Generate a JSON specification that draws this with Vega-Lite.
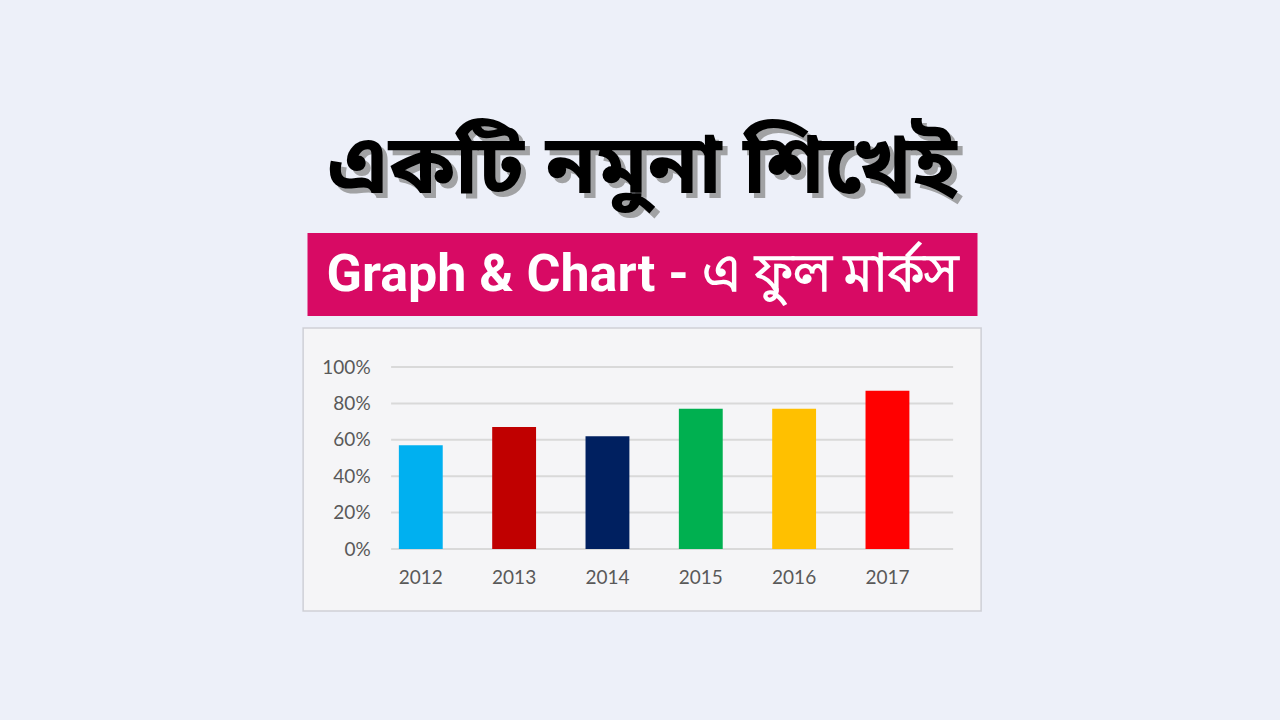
{
  "$schema": "https://vega.github.io/schema/vega-lite/v6.json",
  "description": "Thumbnail-style bar chart: yearly percentage with Bengali headline and banner.",
  "background": "#edf0f9",
  "padding": {"left": 302, "top": 122, "right": 300, "bottom": 110},
  "datasets": {
    "scores": [
      {"year": "2012", "share": 0.57},
      {"year": "2013", "share": 0.67},
      {"year": "2014", "share": 0.62},
      {"year": "2015", "share": 0.77},
      {"year": "2016", "share": 0.77},
      {"year": "2017", "share": 0.87}
    ],
    "ticks": [
      {"tick": 0}, {"tick": 0.2}, {"tick": 0.4},
      {"tick": 0.6}, {"tick": 0.8}, {"tick": 1}
    ]
  },
  "vconcat": [
    {
      "width": 678,
      "height": 100,
      "data": {"values": [{"headline": "একটি নমুনা শিখেই"}]},
      "layer": [
        {
          "mark": {"type": "text", "font": "Noto Sans Bengali", "fontSize": 82, "fontWeight": "bold", "color": "#8f8f8f", "opacity": 0.8, "dx": 5, "dy": 1},
          "encoding": {"text": {"field": "headline"}}
        },
        {
          "mark": {"type": "text", "font": "Noto Sans Bengali", "fontSize": 82, "fontWeight": "bold", "color": "#000000", "dy": -4},
          "encoding": {"text": {"field": "headline"}}
        }
      ]
    },
    {
      "width": 670,
      "height": 83,
      "view": {"fill": "#d80a64", "stroke": null},
      "data": {"values": [{"label": "Graph & Chart - এ ফুল মার্কস"}]},
      "mark": {"type": "text", "font": "Roboto", "fontSize": 52, "fontWeight": "bold", "color": "#ffffff"},
      "encoding": {"text": {"field": "label"}}
    },
    {
      "width": 678,
      "height": 283,
      "view": {"fill": "#f5f5f7", "stroke": "#cfd0d6", "strokeWidth": 1.5},
      "layer": [
        {
          "data": {"name": "ticks"},
          "mark": {"type": "rule", "color": "#d9d9d9", "strokeWidth": 2},
          "encoding": {
            "y": {
              "field": "tick", "type": "quantitative",
              "scale": {"domain": [0, 1], "range": [221, 39], "nice": false},
              "axis": {"orient": "left", "offset": -70, "title": null, "values": [0, 0.2, 0.4, 0.6, 0.8, 1], "format": ".0%", "ticks": false, "tickSize": 0, "domain": false, "grid": false, "labelPadding": 3, "labelFont": "Lato", "labelFontSize": 19, "labelColor": "#595959"}
            },
            "x": {"datum": 0, "type": "quantitative", "scale": {"domain": [0, 1], "range": [88, 650]}, "axis": null},
            "x2": {"datum": 1}
          }
        },
        {
          "data": {"name": "scores"},
          "mark": {"type": "bar"},
          "encoding": {
            "x": {
              "field": "year", "type": "nominal",
              "scale": {"range": [71, 631], "paddingInner": 0.53, "paddingOuter": 0.265},
              "axis": {"orient": "bottom", "offset": -62, "title": null, "labelAngle": 0, "ticks": false, "tickSize": 0, "domain": false, "grid": false, "labelPadding": 19, "labelFont": "Lato", "labelFontSize": 19, "labelColor": "#595959"}
            },
            "y": {
              "field": "share", "type": "quantitative",
              "scale": {"domain": [0, 1], "range": [221, 39], "nice": false},
              "axis": {"orient": "left", "offset": -70, "title": null, "values": [0, 0.2, 0.4, 0.6, 0.8, 1], "format": ".0%", "ticks": false, "tickSize": 0, "domain": false, "grid": false, "labelPadding": 3, "labelFont": "Lato", "labelFontSize": 19, "labelColor": "#595959"}
            },
            "color": {
              "field": "year", "type": "nominal",
              "scale": {"domain": ["2012", "2013", "2014", "2015", "2016", "2017"], "range": ["#00b0f0", "#c00000", "#002060", "#00b050", "#ffc000", "#ff0000"]},
              "legend": null
            }
          }
        }
      ],
      "resolve": {"scale": {"x": "independent"}, "axis": {"x": "independent"}}
    }
  ],
  "spacing": 11,
  "center": true,
  "config": {"axis": {"grid": false}}
}
